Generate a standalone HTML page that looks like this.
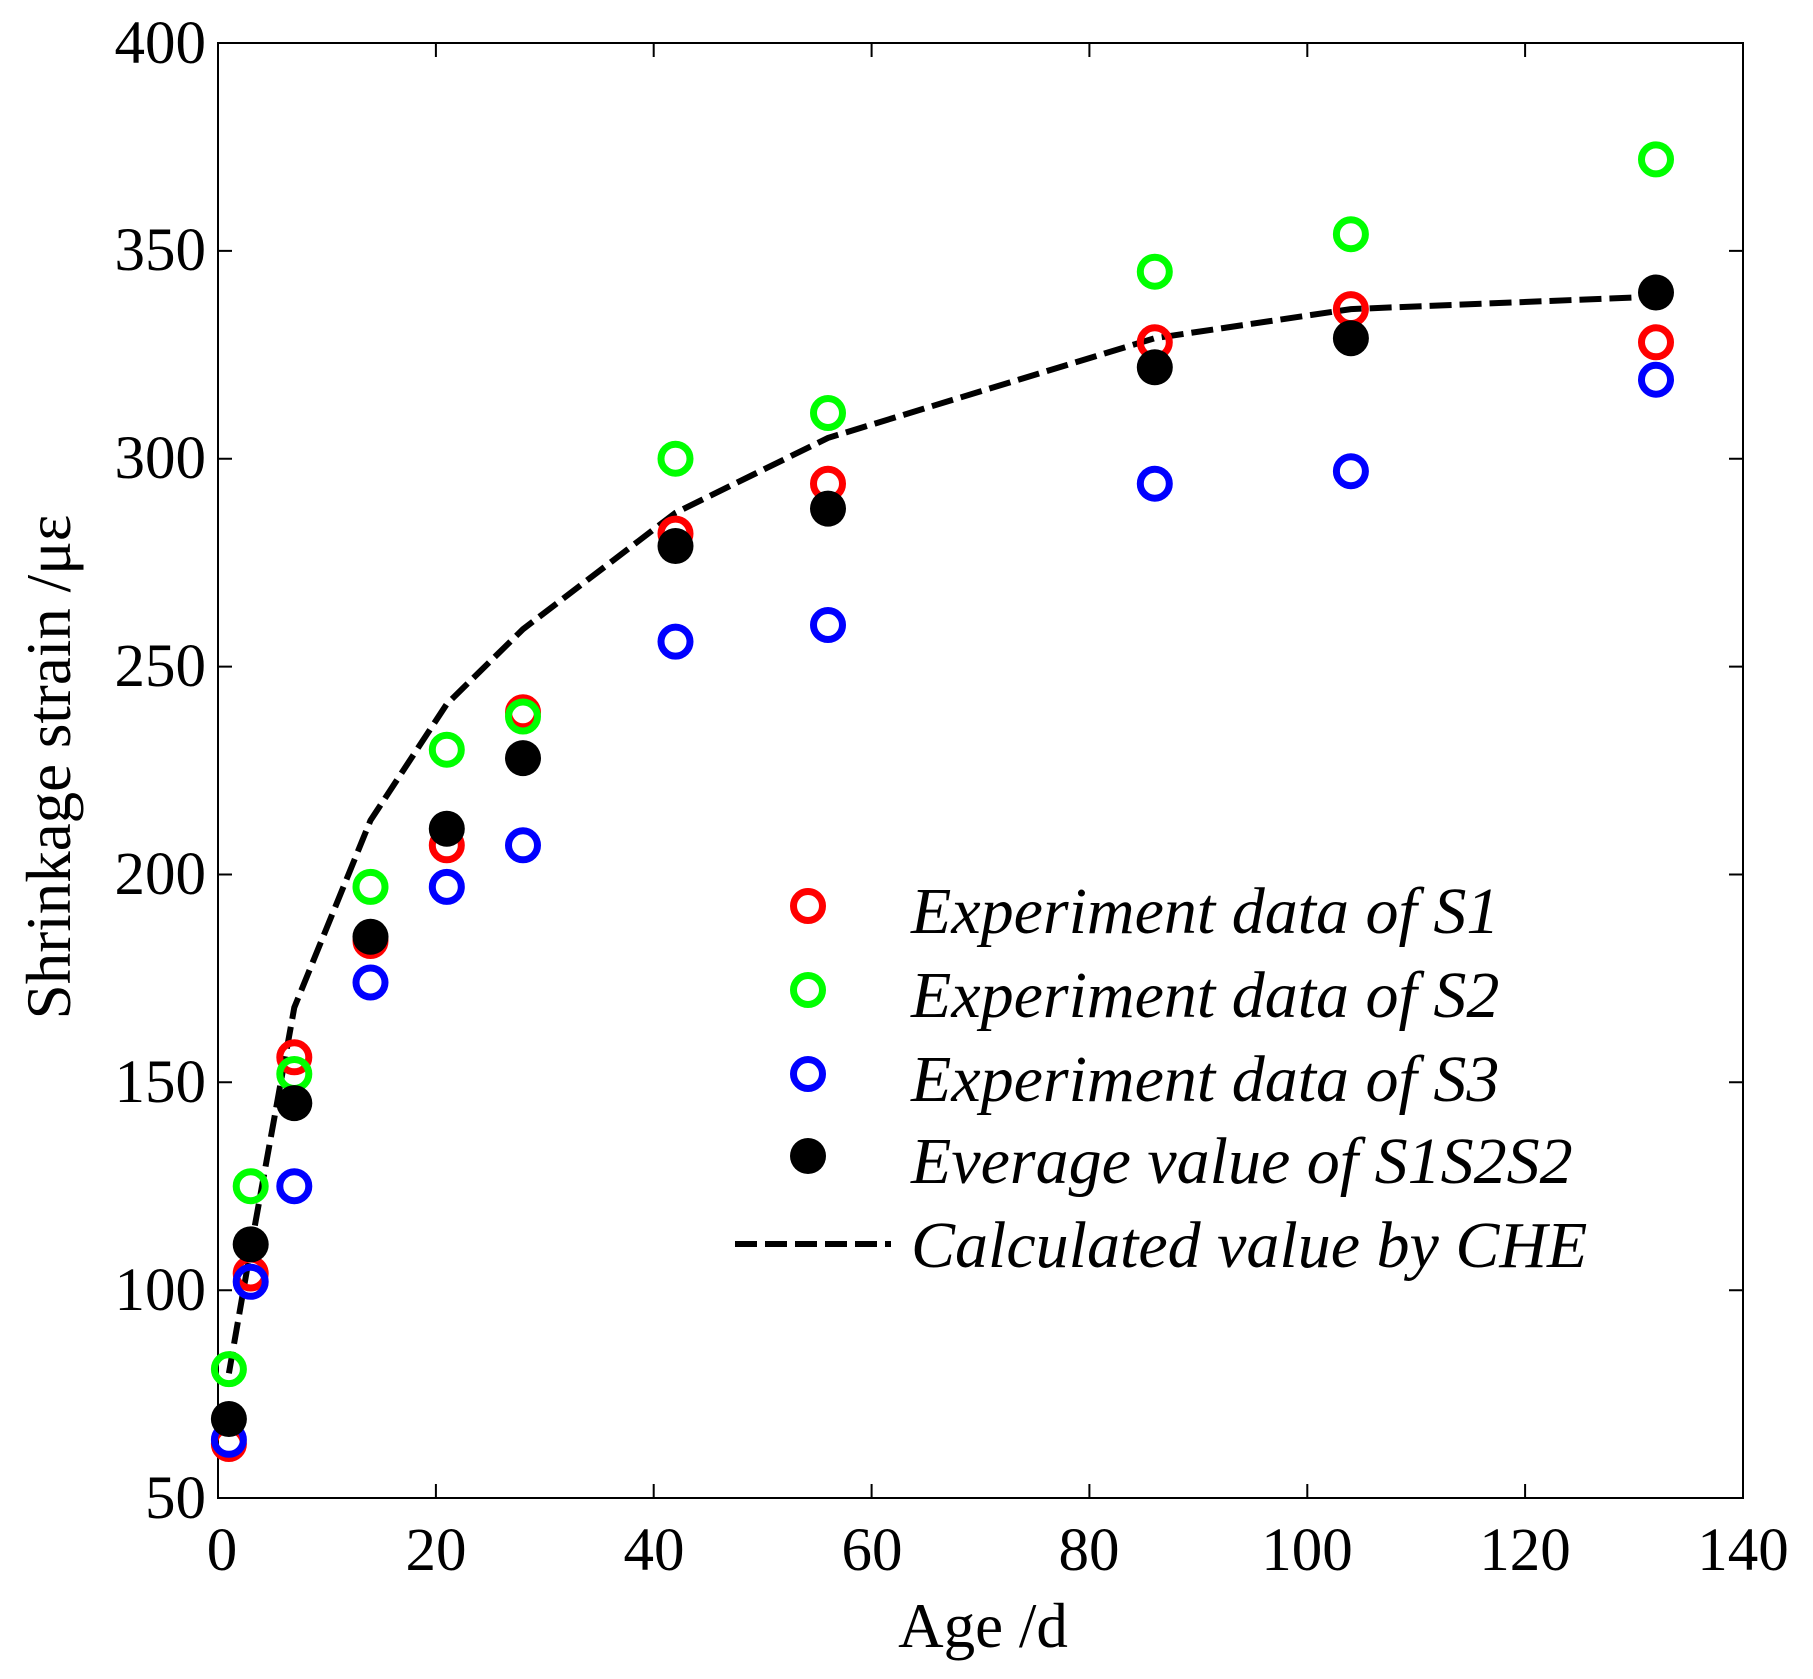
<!DOCTYPE html>
<html><head><meta charset="utf-8"><style>html,body{margin:0;padding:0;background:#fff}svg{display:block}</style></head>
<body>
<svg width="1813" height="1679" viewBox="0 0 1813 1679" xmlns="http://www.w3.org/2000/svg" font-family="Liberation Serif, serif">
<rect width="1813" height="1679" fill="#fff"/>
<g stroke="#000" stroke-width="2" fill="none">
<rect x="218" y="43" width="1525" height="1455"/>
<path d="M435.9,1498v-14M653.7,1498v-14M871.6,1498v-14M1089.4,1498v-14M1307.3,1498v-14M1525.1,1498v-14
M435.9,43v14M653.7,43v14M871.6,43v14M1089.4,43v14M1307.3,43v14M1525.1,43v14
M218,1290.2h14M218,1082.3h14M218,874.5h14M218,666.6h14M218,458.8h14M218,250.9h14
M1743,1290.2h-14M1743,1082.3h-14M1743,874.5h-14M1743,666.6h-14M1743,458.8h-14M1743,250.9h-14"/>
</g>
<g font-size="61" fill="#000" text-anchor="end">
<text x="206" y="1518">50</text><text x="206" y="1310">100</text><text x="206" y="1102">150</text><text x="206" y="894">200</text><text x="206" y="686">250</text><text x="206" y="478">300</text><text x="206" y="270">350</text><text x="206" y="63">400</text>
</g>
<g font-size="61" fill="#000" text-anchor="middle">
<text x="222" y="1570">0</text><text x="436" y="1570">20</text><text x="654" y="1570">40</text><text x="872" y="1570">60</text><text x="1089" y="1570">80</text><text x="1307" y="1570">100</text><text x="1525" y="1570">120</text><text x="1743" y="1570">140</text>
<text x="983" y="1647" font-size="63">Age /d</text>
<text transform="translate(70,767) rotate(-90)" font-size="63">Shrinkage strain /με</text>
</g>
<polyline fill="none" stroke="#000" stroke-width="6" stroke-dasharray="22,8" points="228.9,1373.3 250.7,1248.6 294.3,1007.5 370.5,820.4 446.8,704 523,629.2 675.5,512.8 828,437.9 1154.8,338.2 1350.9,309.1 1656,296.6"/>
<g fill="none" stroke-width="7">
<g stroke="#f00">
<circle cx="228.9" cy="1444" r="14.5"/><circle cx="250.7" cy="1273.5" r="14.5"/><circle cx="294.3" cy="1057.3" r="14.5"/><circle cx="370.5" cy="941" r="14.5"/><circle cx="446.8" cy="845.3" r="14.5"/><circle cx="523" cy="712.3" r="14.5"/><circle cx="675.5" cy="533.6" r="14.5"/><circle cx="828" cy="483.7" r="14.5"/><circle cx="1154.8" cy="342.3" r="14.5"/><circle cx="1350.9" cy="309.1" r="14.5"/><circle cx="1656" cy="342.3" r="14.5"/>
<circle cx="808" cy="906" r="14.5"/></g>
<g stroke="#0f0">
<circle cx="228.9" cy="1369.1" r="14.5"/><circle cx="250.7" cy="1186.2" r="14.5"/><circle cx="294.3" cy="1074" r="14.5"/><circle cx="370.5" cy="886.9" r="14.5"/><circle cx="446.8" cy="749.7" r="14.5"/><circle cx="523" cy="716.5" r="14.5"/><circle cx="675.5" cy="458.7" r="14.5"/><circle cx="828" cy="413" r="14.5"/><circle cx="1154.8" cy="271.7" r="14.5"/><circle cx="1350.9" cy="234.2" r="14.5"/><circle cx="1656" cy="159.4" r="14.5"/>
<circle cx="808" cy="990" r="14.5"/></g>
<g stroke="#00f">
<circle cx="228.9" cy="1439.8" r="14.5"/><circle cx="250.7" cy="1281.8" r="14.5"/><circle cx="294.3" cy="1186.2" r="14.5"/><circle cx="370.5" cy="982.5" r="14.5"/><circle cx="446.8" cy="886.9" r="14.5"/><circle cx="523" cy="845.3" r="14.5"/><circle cx="675.5" cy="641.6" r="14.5"/><circle cx="828" cy="625" r="14.5"/><circle cx="1154.8" cy="483.7" r="14.5"/><circle cx="1350.9" cy="471.2" r="14.5"/><circle cx="1656" cy="379.7" r="14.5"/>
<circle cx="808" cy="1074" r="14.5"/></g>
</g>
<g fill="#000">
<circle cx="228.9" cy="1419" r="18"/><circle cx="250.7" cy="1244.4" r="18"/><circle cx="294.3" cy="1103.1" r="18"/><circle cx="370.5" cy="936.8" r="18"/><circle cx="446.8" cy="828.7" r="18"/><circle cx="523" cy="758.1" r="18"/><circle cx="675.5" cy="546" r="18"/><circle cx="828" cy="508.6" r="18"/><circle cx="1154.8" cy="367.3" r="18"/><circle cx="1350.9" cy="338.2" r="18"/><circle cx="1656" cy="292.5" r="18"/>
<circle cx="808" cy="1156" r="18"/>
</g>
<line x1="735" y1="1244" x2="891" y2="1244" stroke="#000" stroke-width="6" stroke-dasharray="22,8"/>
<g font-size="66" font-style="italic" fill="#000">
<text x="911" y="933">Experiment data of S1</text>
<text x="911" y="1017">Experiment data of S2</text>
<text x="911" y="1101">Experiment data of S3</text>
<text x="911" y="1183">Everage value of S1S2S2</text>
<text x="911" y="1267">Calculated value by CHE</text>
</g>
</svg>
</body></html>
